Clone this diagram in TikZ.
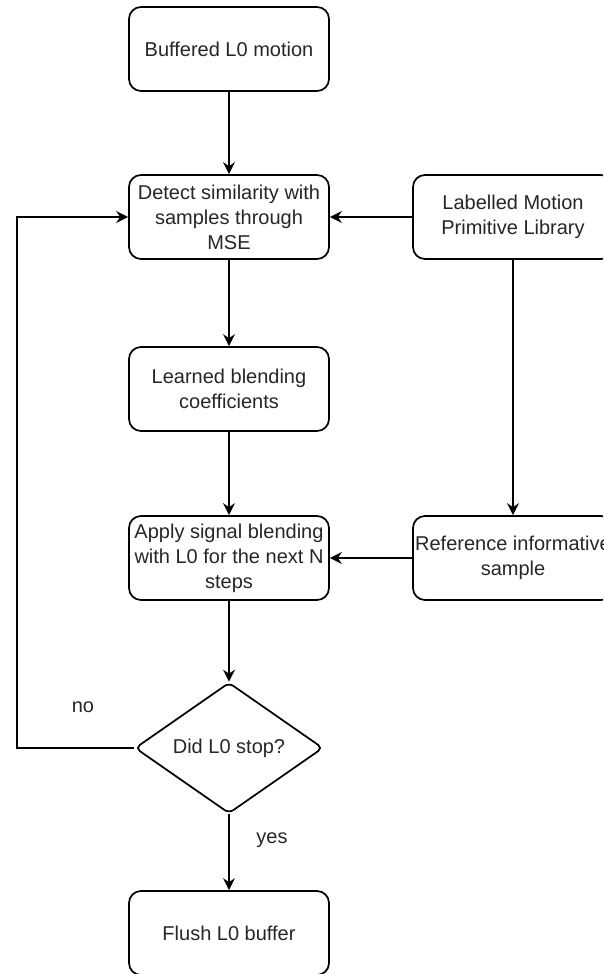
\documentclass[tikz,border=0pt]{standalone}
\usepackage{fontspec}
\setmainfont{Liberation Sans}
\usetikzlibrary{shapes.geometric,arrows.meta}
\begin{document}
\begin{tikzpicture}[x=0.75pt,y=-0.75pt,
  lbl/.style={font=\fontsize{15pt}{18.75pt}\selectfont, text=black!85, align=center},
  box/.style={lbl, draw, line width=1.3pt, rounded corners=9pt,
    minimum width=150pt, minimum height=63pt, inner sep=0pt},
  decision/.style={lbl, draw, diamond, line width=1.3pt, rounded corners=4pt,
    minimum width=141pt, minimum height=94pt, inner sep=0pt},
  flow/.style={draw, line width=1.3pt, -{Stealth[length=9pt,width=9pt,inset=3pt]}}]
  \useasboundingbox (0,0) rectangle (603,974);
  \clip (0,0) rectangle (603,974);

  % main column
  \node[box] (buf) at (229,49) {Buffered L0 motion};
  \node[box] (det) at (229,217) {Detect similarity with\\samples through\\MSE};
  \node[box] (coef) at (229,389) {Learned blending\\coefficients};
  \node[box] (apply) at (229,558) {Apply signal blending\\with L0 for the next N\\steps};
  \node[decision] (stop) at (229,748) {Did L0 stop?};
  \node[box] (flush) at (229,933) {Flush L0 buffer};

  % library column
  \node[box] (lib) at (513,217) {Labelled Motion\\Primitive Library};
  \node[box] (ref) at (513,558) {Reference informative\\sample};

  % connectors
  \draw[flow] (buf) -- (det);
  \draw[flow] (det) -- (coef);
  \draw[flow] (coef) -- (apply);
  \draw[flow] (apply) -- (stop);
  \draw[flow] (stop) -- (flush);
  \draw[flow] (lib) -- (det);
  \draw[flow] (lib) -- (ref);
  \draw[flow] (ref) -- (apply);
  \coordinate (loopcorner) at (17,748);
  \draw[flow] (stop.west) -- (loopcorner) |- (det.west);

  % branch labels
  \node[lbl] (no) at (83,707) {no};
  \node[lbl] (yes) at (272,840) {yes};
\end{tikzpicture}
\end{document}
